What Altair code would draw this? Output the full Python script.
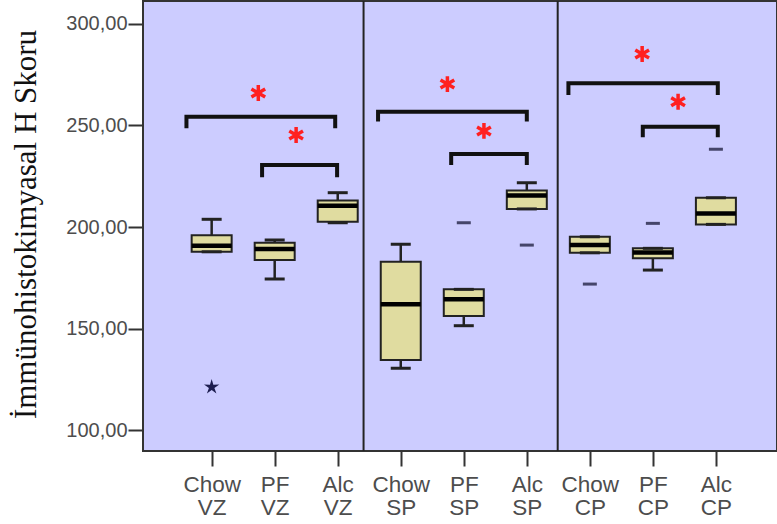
import altair as alt
import pandas as pd

# ---- data ----
groups = ["Chow VZ", "PF VZ", "Alc VZ", "Chow SP", "PF SP", "Alc SP", "Chow CP", "PF CP", "Alc CP"]
positions = [0, 1, 2, 3, 4, 5, 6, 7, 8]
whisker_low = [187.8, 174.4, 202.1, 130.4, 151.4, 208.9, 187.3, 178.8, 201.3]
q1 = [187.8, 183.7, 202.6, 134.5, 156.2, 208.9, 187.3, 184.6, 201.3]
median = [190.8, 189.2, 210.5, 162.0, 164.4, 215.5, 191.1, 187.4, 206.7]
q3 = [196.0, 192.3, 213.0, 182.9, 169.3, 218.0, 195.2, 189.5, 214.4]
whisker_high = [203.8, 193.6, 216.9, 191.5, 169.3, 221.8, 195.2, 189.5, 214.4]

outlier_pos = [4, 5, 6, 7, 8]
outlier_val = [202.1, 191.1, 171.9, 201.8, 238.3]
extreme_pos = [0]
extreme_val = [121.2]

bracket_id = ["VZ1", "VZ2", "SP1", "SP2", "CP1", "CP2"]
bracket_x1 = [-0.40, 0.80, 2.64, 3.80, 5.66, 6.84]
bracket_x2 = [1.96, 1.99, 5.00, 5.00, 8.03, 8.03]
bracket_top = [254.3, 230.5, 256.8, 236.0, 270.8, 249.4]
bracket_end = [248.6, 224.5, 251.9, 230.5, 265.0, 244.2]

sig_x = [0.74, 1.34, 3.74, 4.32, 6.83, 7.40]
sig_y = [266.0, 245.3, 270.4, 247.3, 285.2, 261.7]

divider_x = [2.41, 5.49]

y_ticks = [100, 150, 200, 250, 300]
y_title = "İmmünohistokimyasal H Skoru"

# ---- tables ----
boxes = pd.DataFrame({
    "x": positions, "group": groups, "lo": whisker_low, "q1": q1,
    "med": median, "q3": q3, "hi": whisker_high,
})
outliers = pd.DataFrame({"x": outlier_pos, "y": outlier_val})
extremes = pd.DataFrame({"x": extreme_pos, "y": extreme_val})
rows = []
for b, x1, x2, top, end in zip(bracket_id, bracket_x1, bracket_x2, bracket_top, bracket_end):
    rows += [
        {"b": b, "o": 0, "x": x1, "y": end},
        {"b": b, "o": 1, "x": x1, "y": top},
        {"b": b, "o": 2, "x": x2, "y": top},
        {"b": b, "o": 3, "x": x2, "y": end},
    ]
brackets = pd.DataFrame(rows)
sigs = pd.DataFrame({"x": sig_x, "y": sig_y})
dividers = pd.DataFrame({"x": divider_x})

label_lines = "[" + ",".join(
    "['" + g.split(" ")[0] + "','" + g.split(" ")[1] + "']" for g in groups
) + "]"

xscale = alt.Scale(domain=[-1.01, 8.89], nice=False, zero=False)
yscale = alt.Scale(domain=[89.7, 311.3], nice=False, zero=False)
xaxis = alt.Axis(
    values=positions, labelExpr=label_lines + "[datum.value]", title=None,
    grid=False, domain=False, tickSize=15, tickWidth=2, tickColor="#333333",
    labelFont="Liberation Sans", labelFontSize=22.5, labelLineHeight=23.5,
    labelColor="#4d4d4d", labelPadding=7, labelFlush=False, labelOverlap=False,
    labelBaseline="top",
)
yaxis = alt.Axis(
    values=y_ticks, labelExpr="replace(format(datum.value, '.2f'), '.', ',')",
    title=y_title, titleFont="Liberation Serif", titleFontSize=31,
    titleFontWeight="normal", titleColor="#111111", titleX=-117, titleY=223,
    titleAlign="center", titleBaseline="middle", titleAngle=270,
    grid=False, domain=False, tickSize=15, tickWidth=2, tickColor="#333333",
    labelFont="Liberation Sans", labelFontSize=20, labelColor="#4d4d4d",
    labelPadding=1,
)


def X(f="x"):
    return alt.X(f, type="quantitative", scale=xscale, axis=xaxis)


def Y(f="y"):
    return alt.Y(f, type="quantitative", scale=yscale, axis=yaxis)


BOX_FILL = "#E0DCA0"
DARK = "#222222"

stems = alt.Chart(boxes).mark_rule(color=DARK, strokeWidth=2.5).encode(
    x=X(), y=Y("lo"), y2="hi")
bars = alt.Chart(boxes).mark_bar(
    size=40, orient="vertical", fill=BOX_FILL, stroke=DARK, strokeWidth=2
).encode(x=X(), y=Y("q1"), y2="q3")
meds = alt.Chart(boxes).mark_tick(
    orient="horizontal", size=40, thickness=4.5, color="#000000", opacity=1
).encode(x=X(), y=Y("med"))
caps_lo = alt.Chart(boxes).mark_tick(
    orient="horizontal", size=20, thickness=3, color=DARK, opacity=1
).encode(x=X(), y=Y("lo"))
caps_hi = alt.Chart(boxes).mark_tick(
    orient="horizontal", size=20, thickness=3, color=DARK, opacity=1
).encode(x=X(), y=Y("hi"))
outs = alt.Chart(outliers).mark_tick(
    orient="horizontal", size=14, thickness=3, color="#45456a", opacity=1
).encode(x=X(), y=Y())

STAR = ("M0,-1L0.21,-0.29L0.95,-0.31L0.34,0.11L0.59,0.81L0,0.36L-0.59,0.81"
        "L-0.34,0.11L-0.95,-0.31L-0.21,-0.29Z")
ext = alt.Chart(extremes).mark_point(
    shape=STAR, filled=True, color="#1e1e50", size=260, opacity=1
).encode(x=X(), y=Y())

br = alt.Chart(brackets).mark_line(
    color="#111111", strokeWidth=4, strokeJoin="miter", strokeCap="butt"
).encode(x=X(), y=Y(), detail="b:N", order="o:Q")

ASTERISK = "M0,-1L0,1M-0.87,-0.5L0.87,0.5M-0.87,0.5L0.87,-0.5"
sig = alt.Chart(sigs).mark_point(
    shape=ASTERISK, filled=False, color="#ff2020", strokeWidth=3.5, size=250, opacity=1
).encode(x=X(), y=Y())

div = alt.Chart(dividers).mark_rule(color=DARK, strokeWidth=2).encode(x=X())

chart = alt.layer(stems, bars, meds, caps_lo, caps_hi, outs, ext, br, sig, div).properties(
    width=634, height=450,
    autosize=alt.AutoSizeParams(type="none"),
    padding={"left": 143, "top": 1, "right": 0, "bottom": 73},
    background="#ffffff",
).configure_view(fill="#CCCCFF", stroke="#333333", strokeWidth=2)

chart.save("out.html", embed_options={"renderer": "svg", "actions": False})
